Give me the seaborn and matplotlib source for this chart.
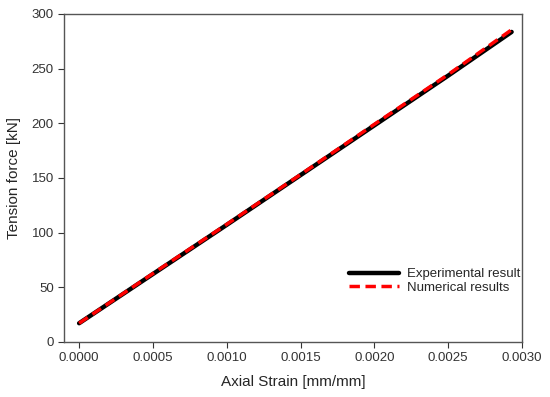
import numpy as np
import pandas as pd
import seaborn as sns
import matplotlib.pyplot as plt

# data
strain_exp = [0.0000, 0.0005, 0.0010, 0.0015, 0.0020, 0.0025, 0.00293]
force_exp = [17, 62, 107, 152.5, 198, 243.5, 283.5]
strain_num = [0.0000, 0.0005, 0.0010, 0.0015, 0.0020, 0.0025, 0.00293]
force_num = [17, 62.5, 107.5, 153, 199, 244.5, 285.5]

df = pd.concat([
    pd.DataFrame({"strain": strain_exp, "force": force_exp, "series": "Experimental result"}),
    pd.DataFrame({"strain": strain_num, "force": force_num, "series": "Numerical results"}),
])

sns.set_style("ticks")
plt.rcParams["font.family"] = ["Liberation Sans", "DejaVu Sans"]

fig, ax = plt.subplots(figsize=(5.5, 3.97), dpi=100)
fig.subplots_adjust(left=0.117, right=0.949, top=0.965, bottom=0.139)

sns.lineplot(data=df[df.series == "Experimental result"], x="strain", y="force",
             color="black", lw=3.2, ax=ax, label="Experimental result")
sns.lineplot(data=df[df.series == "Numerical results"], x="strain", y="force",
             color="red", lw=2.5, ls=(0, (3, 1.6)), ax=ax, label="Numerical results")

ax.set_xlim(-0.0001, 0.003)
ax.set_ylim(0, 300)
ax.set_xticks(np.arange(0, 0.00301, 0.0005))
ax.set_xticklabels([f"{v:.4f}" for v in np.arange(0, 0.00301, 0.0005)])
ax.set_yticks(range(0, 301, 50))
ax.set_xlabel("Axial Strain [mm/mm]", fontsize=11, labelpad=8)
ax.set_ylabel("Tension force [kN]", fontsize=11, labelpad=8)
ax.tick_params(labelsize=9.5, colors="#333333", length=4, direction="out")
for s in ax.spines.values():
    s.set_color("#555555")
    s.set_linewidth(1)

ax.legend(loc="lower right", bbox_to_anchor=(1.022, 0.11), frameon=False,
          fontsize=9.5, handlelength=3.8, labelspacing=0.1, handletextpad=0.6)

fig.savefig("out.png", dpi=100)
